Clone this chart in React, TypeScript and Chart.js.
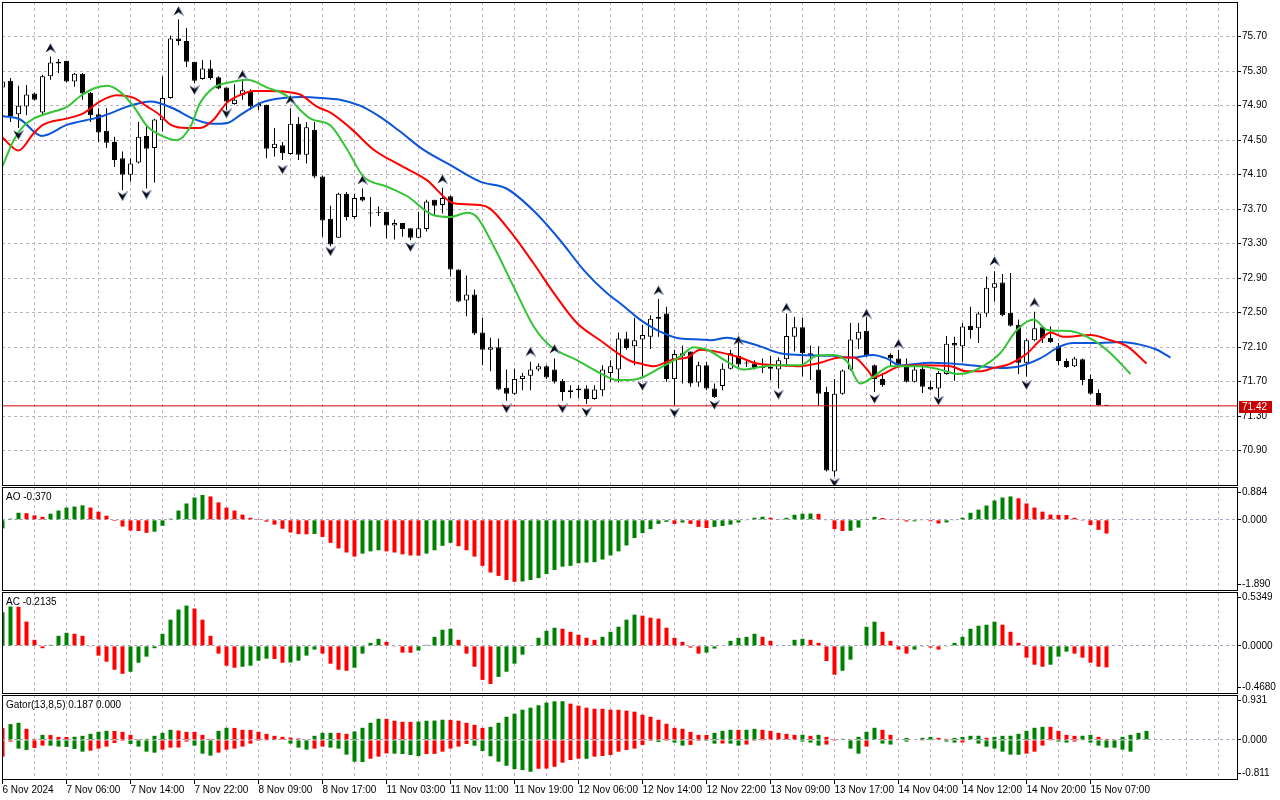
import React, { useEffect, useRef } from 'react';
import { Chart, registerables } from 'chart.js';

Chart.register(...registerables);

// ---------------- data (hourly bars) ----------------
const openPrices = [
  75.11, 75.19, 74.80, 74.89, 75.04, 74.82, 75.24, 75.41, 75.42, 75.18,
  75.27, 75.05, 74.80, 74.61, 74.48, 74.29, 74.10, 74.24, 74.55, 74.41,
  74.73, 74.99, 75.68, 75.65, 75.41, 75.21, 75.33, 75.23, 75.11, 74.92,
  75.02, 75.06, 74.89, 74.91, 74.41, 74.44, 74.34, 74.69, 74.33, 74.62,
  74.08, 73.59, 73.37, 73.88, 73.61, 73.84, 73.66, 73.67, 73.67, 73.51,
  73.54, 73.48, 73.37, 73.47, 73.81, 73.75, 73.85, 73.00, 72.64, 72.71,
  72.27, 72.07, 72.10, 71.63, 71.56, 71.73, 71.77, 71.84, 71.88, 71.84,
  71.71, 71.58, 71.60, 71.62, 71.50, 71.60, 71.80, 71.84, 72.20, 72.11,
  72.19, 72.22, 72.43, 72.49, 71.73, 72.00, 72.05, 71.69, 71.89, 71.62,
  71.65, 71.85, 72.00, 71.92, 71.91, 71.87, 71.87, 71.84, 71.96, 72.22,
  72.33, 72.03, 71.84, 71.58, 70.66, 71.56, 71.84, 72.19, 72.29, 71.89,
  71.73, 72.01, 71.97, 71.90, 71.70, 71.85, 71.64, 71.62, 71.79, 72.15,
  72.11, 72.35, 72.32, 72.49, 72.79, 72.85, 72.50, 72.36, 71.92, 72.18,
  72.33, 72.21, 72.11, 71.94, 71.88, 71.96, 71.73, 71.57, 71.43,
];
const highPrices = [
  75.22, 75.22, 75.13, 75.14, 75.05, 75.26, 75.47, 75.44, 75.42, 75.28,
  75.28, 75.06, 74.87, 74.87, 74.54, 74.37, 74.29, 74.71, 74.66, 74.75,
  75.24, 75.71, 75.90, 75.80, 75.41, 75.43, 75.43, 75.24, 75.11, 75.15,
  75.21, 75.09, 74.94, 74.91, 74.64, 74.48, 74.87, 74.77, 74.71, 74.71,
  74.09, 73.74, 73.89, 73.90, 73.88, 73.94, 73.84, 73.73, 73.67, 73.58,
  73.54, 73.48, 73.67, 73.81, 73.81, 73.95, 73.86, 73.00, 72.93, 72.77,
  72.44, 72.21, 72.20, 71.84, 71.85, 71.80, 71.93, 71.91, 71.89, 71.97,
  71.73, 71.66, 71.66, 71.66, 71.66, 71.89, 71.95, 72.27, 72.28, 72.44,
  72.36, 72.47, 72.66, 72.57, 72.07, 72.12, 72.05, 71.93, 71.93, 71.68,
  71.91, 72.07, 72.16, 71.96, 71.95, 71.97, 72.00, 71.98, 72.49, 72.45,
  72.44, 72.12, 72.11, 71.64, 71.73, 71.84, 72.38, 72.38, 72.45, 71.90,
  71.80, 72.03, 72.07, 71.97, 71.89, 71.89, 71.71, 71.82, 72.23, 72.22,
  72.38, 72.57, 72.51, 72.92, 72.98, 72.95, 72.96, 72.42, 72.20, 72.51,
  72.34, 72.34, 72.15, 71.97, 71.99, 71.97, 71.78, 71.61, 71.43,
];
const lowPrices = [
  75.06, 74.71, 74.64, 74.79, 74.96, 74.79, 75.20, 75.28, 75.17, 75.12,
  74.97, 74.71, 74.48, 74.41, 74.19, 73.92, 74.02, 74.23, 73.94, 74.01,
  74.60, 74.98, 75.60, 75.35, 75.16, 75.20, 75.20, 75.09, 74.85, 74.91,
  74.97, 74.85, 74.85, 74.29, 74.31, 74.27, 74.33, 74.27, 74.23, 74.06,
  73.38, 73.27, 73.37, 73.57, 73.59, 73.79, 73.50, 73.62, 73.36, 73.35,
  73.38, 73.34, 73.37, 73.44, 73.63, 73.65, 72.92, 72.62, 72.46, 72.24,
  71.89, 71.82, 71.60, 71.48, 71.55, 71.60, 71.60, 71.82, 71.73, 71.68,
  71.48, 71.51, 71.51, 71.44, 71.49, 71.53, 71.70, 71.69, 72.07, 71.89,
  71.74, 72.08, 72.22, 71.70, 71.43, 71.68, 71.64, 71.64, 71.60, 71.51,
  71.60, 71.84, 71.87, 71.87, 71.84, 71.80, 71.72, 71.62, 71.87, 72.05,
  71.76, 71.72, 71.42, 70.66, 70.60, 71.55, 71.83, 72.08, 71.99, 71.58,
  71.64, 71.87, 71.87, 71.69, 71.69, 71.57, 71.60, 71.51, 71.78, 71.71,
  71.93, 72.20, 72.15, 72.45, 72.63, 72.46, 72.34, 71.79, 71.76, 72.17,
  72.15, 72.15, 71.89, 71.86, 71.87, 71.66, 71.55, 71.42, 71.42,
];
const closePrices = [
  75.18, 74.78, 74.90, 75.03, 74.97, 75.24, 75.40, 75.39, 75.18, 75.27,
  75.04, 74.79, 74.59, 74.47, 74.27, 74.10, 74.23, 74.54, 74.40, 74.74,
  74.99, 75.68, 75.65, 75.41, 75.19, 75.33, 75.22, 75.10, 74.95, 74.97,
  75.08, 74.89, 74.92, 74.40, 74.46, 74.35, 74.69, 74.33, 74.65, 74.08,
  73.57, 73.29, 73.88, 73.61, 73.83, 73.80, 73.65, 73.66, 73.51, 73.54,
  73.47, 73.37, 73.48, 73.79, 73.74, 73.83, 73.00, 72.63, 72.71, 72.26,
  72.07, 72.10, 71.61, 71.56, 71.73, 71.77, 71.84, 71.88, 71.75, 71.70,
  71.58, 71.60, 71.62, 71.50, 71.61, 71.84, 71.88, 72.20, 72.09, 72.18,
  72.24, 72.43, 72.45, 71.73, 72.02, 72.03, 71.68, 71.89, 71.62, 71.52,
  71.85, 72.03, 71.90, 71.91, 71.86, 71.86, 71.85, 71.95, 72.23, 72.33,
  72.03, 72.00, 71.56, 70.67, 71.56, 71.83, 72.19, 72.28, 72.00, 71.73,
  71.66, 71.97, 71.90, 71.70, 71.84, 71.64, 71.61, 71.80, 72.14, 72.12,
  72.34, 72.30, 72.49, 72.79, 72.84, 72.47, 72.35, 71.92, 72.18, 72.32,
  72.20, 72.16, 71.94, 71.87, 71.97, 71.72, 71.56, 71.43, 71.42,
];

// Alligator (already shifted: jaw 8, teeth 5, lips 3 bars)
const jawIndex = [0, 2.2, 4.9, 8.1, 12.2, 16.3, 18.5, 21.3, 23.8, 26.3, 28.1, 29.7, 32.2, 34.3, 37.2, 41, 42.2, 44.7, 47.2, 49.7, 52.6, 56, 59.7, 63, 66.3, 69.7, 72.6, 75.5, 77.2, 79.7, 82.2, 84.7, 87.2, 88.5, 90.6, 92.2, 94.7, 97.2, 99.7, 103.8, 106.3, 108.8, 110.5, 112.2, 116, 118.5, 122.2, 124.7, 127.2, 129.7, 132.2, 133.8, 137.2, 139.7, 142.2, 144.3, 146];
const jawValues = [74.78, 74.74, 74.55, 74.68, 74.77, 74.91, 74.95, 74.87, 74.75, 74.69, 74.70, 74.79, 74.93, 74.98, 75.00, 74.98, 74.97, 74.90, 74.77, 74.60, 74.39, 74.21, 74.02, 73.94, 73.69, 73.34, 73.00, 72.73, 72.61, 72.42, 72.28, 72.20, 72.19, 72.18, 72.21, 72.18, 72.11, 72.03, 72.01, 72.00, 71.98, 72.01, 71.97, 71.89, 71.92, 71.91, 71.88, 71.86, 71.88, 71.97, 72.11, 72.15, 72.15, 72.16, 72.13, 72.07, 71.98];
const teethIndex = [0, 2, 3.9, 5.1, 8, 10.1, 12.2, 14.3, 16.4, 18.1, 19.7, 21, 23, 24.7, 26.4, 28, 30.1, 31.4, 33, 35.6, 37.2, 39.3, 41, 43.5, 46.4, 49.7, 53, 56.4, 59.7, 60.9, 63.5, 66.4, 68.9, 71.8, 74.7, 78.5, 79.7, 81.4, 83.9, 85.6, 87.2, 89.7, 92.2, 94.3, 97.2, 99.7, 102.2, 104.7, 106.4, 108.1, 108.9, 110.1, 112.2, 114.7, 118.5, 120.5, 122.2, 123.9, 126, 128.1, 129.7, 131, 132.6, 136, 138.5, 140.6, 143];
const teethValues = [74.53, 74.38, 74.58, 74.68, 74.75, 74.81, 74.95, 75.02, 74.99, 74.89, 74.79, 74.68, 74.64, 74.64, 74.74, 74.93, 75.04, 75.07, 75.07, 75.06, 75.03, 74.89, 74.82, 74.64, 74.39, 74.21, 74.04, 73.77, 73.75, 73.71, 73.44, 73.07, 72.73, 72.38, 72.18, 71.94, 71.91, 71.88, 71.96, 71.98, 72.07, 72.04, 71.98, 71.91, 71.89, 71.88, 71.92, 71.98, 71.98, 71.84, 71.75, 71.79, 71.88, 71.89, 71.88, 71.82, 71.82, 71.86, 71.91, 72.03, 72.18, 72.27, 72.22, 72.24, 72.18, 72.11, 71.91];
const lipsIndex = [0, 1.4, 2.6, 3.9, 5.6, 8.1, 9.7, 11.4, 13.1, 14.7, 16.4, 18.1, 19.3, 21.8, 23.5, 24.7, 26.4, 28.9, 30.6, 33.1, 35.6, 37.2, 38.5, 41, 43.1, 45.1, 48.1, 50.6, 53.9, 56, 58.1, 59.3, 61.4, 63.9, 66.4, 68.5, 71.8, 74.7, 76.8, 78.5, 79.7, 82.2, 84.7, 86.4, 88.1, 90.6, 92.6, 94.7, 97.2, 99.7, 101.8, 103.9, 105.6, 107.2, 108.9, 111, 113.1, 114.7, 117.2, 119.3, 120.6, 122.6, 124.7, 126.8, 128.9, 130.6, 132.2, 133.9, 136.4, 138.5, 141];
const lipsValues = [74.20, 74.50, 74.66, 74.75, 74.81, 74.89, 75.01, 75.10, 75.13, 75.06, 74.89, 74.66, 74.58, 74.50, 74.66, 74.93, 75.11, 75.18, 75.20, 75.11, 75.01, 74.85, 74.75, 74.67, 74.39, 74.08, 73.96, 73.85, 73.63, 73.61, 73.66, 73.61, 73.27, 72.80, 72.34, 72.11, 71.95, 71.80, 71.72, 71.72, 71.74, 71.86, 71.99, 72.10, 72.07, 71.93, 71.84, 71.87, 71.89, 71.89, 72.00, 72.01, 71.93, 71.68, 71.76, 71.88, 71.88, 71.88, 71.84, 71.79, 71.80, 71.88, 72.03, 72.30, 72.42, 72.30, 72.29, 72.28, 72.18, 72.03, 71.79];

// Fractals
const fractalUpIndex = [6, 22, 30, 36, 45, 55, 66, 69, 82, 92, 98, 108, 112, 124, 129];
const fractalUpValues = [75.57, 76.00, 75.26, 74.97, 74.04, 74.05, 72.05, 72.08, 72.76, 72.18, 72.56, 72.49, 72.14, 73.10, 72.62];
const fractalDownIndex = [2, 15, 18, 24, 28, 35, 41, 51, 63, 70, 73, 80, 84, 89, 97, 104, 109, 117, 128];
const fractalDownValues = [74.56, 73.85, 73.87, 75.08, 74.81, 74.16, 73.21, 73.26, 71.39, 71.39, 71.35, 71.65, 71.34, 71.43, 71.55, 70.53, 71.50, 71.48, 71.66];

// Awesome Oscillator
const aoValues = [
  -0.23, 0.03, 0.19, 0.18, 0.12, 0.08, 0.165, 0.25, 0.33, 0.357,
  0.39, 0.33, 0.22, 0.11, -0.03, -0.18, -0.29, -0.30, -0.35, -0.32,
  -0.16, 0.03, 0.25, 0.44, 0.60, 0.67, 0.63, 0.47, 0.33, 0.25,
  0.14, 0.055, 0.005, -0.05, -0.13, -0.24, -0.34, -0.385, -0.39, -0.38,
  -0.46, -0.62, -0.77, -0.88, -0.99, -0.91, -0.85, -0.82, -0.85, -0.88,
  -0.93, -0.96, -0.965, -0.91, -0.82, -0.70, -0.62, -0.71, -0.82, -0.99,
  -1.24, -1.42, -1.51, -1.62, -1.67, -1.66, -1.62, -1.57, -1.46, -1.35,
  -1.26, -1.24, -1.17, -1.15, -1.14, -1.07, -0.96, -0.85, -0.69, -0.49,
  -0.36, -0.25, -0.11, -0.055, -0.11, -0.073, -0.11, -0.19, -0.22, -0.19,
  -0.165, -0.13, -0.073, -0.01, 0.055, 0.082, 0.055, 0.02, 0.055, 0.137,
  0.165, 0.17, 0.16, -0.01, -0.25, -0.30, -0.295, -0.21, 0.005, 0.08,
  0.05, 0.02, 0.005, -0.045, -0.04, -0.01, -0.04, -0.10, -0.07, -0.01,
  0.055, 0.19, 0.275, 0.385, 0.52, 0.60, 0.63, 0.58, 0.44, 0.33,
  0.22, 0.14, 0.135, 0.13, 0.055, -0.005, -0.14, -0.27, -0.37,
];
// Accelerator Oscillator
const acValues = [
  0.334, 0.391, 0.388, 0.241, 0.06, -0.023, 0.01, 0.10, 0.13, 0.12,
  0.10, -0.003, -0.097, -0.157, -0.237, -0.277, -0.257, -0.167, -0.107, -0.023,
  0.12, 0.26, 0.361, 0.40, 0.371, 0.26, 0.10, -0.077, -0.197, -0.217,
  -0.207, -0.197, -0.147, -0.127, -0.13, -0.167, -0.165, -0.147, -0.097, -0.037,
  -0.077, -0.177, -0.237, -0.247, -0.217, -0.077, 0.03, 0.07, 0.04, -0.003,
  -0.067, -0.068, -0.047, 0.01, 0.09, 0.16, 0.17, 0.06, -0.077, -0.207,
  -0.338, -0.378, -0.308, -0.257, -0.177, -0.087, -0.005, 0.08, 0.15, 0.18,
  0.17, 0.14, 0.11, 0.08, 0.06, 0.09, 0.14, 0.19, 0.26, 0.31,
  0.30, 0.28, 0.27, 0.18, 0.08, 0.04, -0.017, -0.077, -0.067, -0.027,
  -0.005, 0.05, 0.08, 0.09, 0.12, 0.09, 0.05, 0.00, 0.007, 0.06,
  0.07, 0.06, 0.03, -0.15, -0.287, -0.247, -0.137, 0.003, 0.19, 0.24,
  0.14, 0.05, -0.037, -0.077, -0.037, -0.002, -0.017, -0.037, -0.003, 0.03,
  0.09, 0.17, 0.20, 0.21, 0.24, 0.21, 0.14, 0.03, -0.117, -0.187,
  -0.207, -0.187, -0.107, -0.057, -0.077, -0.117, -0.167, -0.207, -0.2135,
];
// Gator oscillator
const gatorUpper = [
  0.244, 0.327, 0.355, 0.23, 0.021, 0.104, 0.100, 0.063, 0.060, 0.065,
  0.084, 0.125, 0.167, 0.188, 0.185, 0.167, 0.104, 0.018, 0.022, 0.084,
  0.146, 0.209, 0.195, 0.167, 0.165, 0.104, 0.021, 0.188, 0.251, 0.248,
  0.209, 0.207, 0.167, 0.125, 0.084, 0.063, 0.049, 0.028, 0.014, 0.084,
  0.146, 0.147, 0.145, 0.125, 0.174, 0.251, 0.355, 0.438, 0.436, 0.397,
  0.376, 0.374, 0.38, 0.397, 0.40, 0.418, 0.415, 0.397, 0.355, 0.313,
  0.25, 0.271, 0.355, 0.48, 0.543, 0.626, 0.668, 0.717, 0.773, 0.80,
  0.802, 0.752, 0.71, 0.668, 0.647, 0.645, 0.626, 0.624, 0.606, 0.585,
  0.522, 0.48, 0.418, 0.334, 0.25, 0.23, 0.167, 0.104, 0.102, 0.146,
  0.188, 0.209, 0.207, 0.210, 0.23, 0.209, 0.188, 0.146, 0.125, 0.104,
  0.106, 0.084, 0.104, 0.063, 0.014, 0.021, 0.007, 0.063, 0.167, 0.251,
  0.209, 0.104, 0.014, 0.042, 0.01, 0.042, 0.063, 0.042, 0.021, 0.042,
  0.063, 0.084, 0.086, 0.042, 0.063, 0.084, 0.086, 0.125, 0.188, 0.251,
  0.271, 0.27, 0.188, 0.104, 0.084, 0.086, 0.104, 0.063, 0.021, 0.007,
  0.063, 0.104, 0.146, 0.187,
];
const gatorLower = [
  -0.348, -0.035, -0.181, -0.209, -0.167, -0.118, -0.120, -0.139, -0.146, -0.188,
  -0.244, -0.223, -0.181, -0.139, -0.063, -0.021, -0.084, -0.139, -0.244, -0.265,
  -0.202, -0.160, -0.158, -0.035, -0.118, -0.285, -0.327, -0.265, -0.202, -0.181,
  -0.139, -0.077, -0.021, -0.005, -0.008, -0.01, -0.077, -0.160, -0.202, -0.181,
  -0.139, -0.160, -0.181, -0.306, -0.452, -0.46, -0.390, -0.348, -0.28, -0.285,
  -0.292, -0.313, -0.334, -0.292, -0.29, -0.244, -0.181, -0.139, -0.084, -0.12,
  -0.23, -0.34, -0.452, -0.536, -0.606, -0.626, -0.661, -0.599, -0.595, -0.557,
  -0.473, -0.418, -0.39, -0.392, -0.348, -0.334, -0.313, -0.244, -0.209, -0.181,
  -0.104, -0.02, -0.042, -0.02, -0.056, -0.118, -0.104, -0.02, -0.021, -0.077,
  -0.075, -0.077, -0.118, -0.097, -0.02, -0.014, -0.012, -0.01, -0.01, -0.012,
  -0.035, -0.056, -0.118, -0.097, -0.02, -0.01, -0.181, -0.285, -0.139, -0.01,
  -0.077, -0.097, -0.01, -0.035, -0.01, -0.005, -0.014, -0.012, -0.035, -0.056,
  -0.054, -0.01, -0.077, -0.139, -0.181, -0.244, -0.306, -0.308, -0.285, -0.244,
  -0.118, -0.014, -0.035, -0.056, -0.035, -0.007, -0.056, -0.118, -0.160, -0.162,
  -0.202, -0.244, null, 0,
];

// Axis labels
const timeLabels = ['6 Nov 2024', '7 Nov 06:00', '7 Nov 14:00', '7 Nov 22:00', '8 Nov 09:00', '8 Nov 17:00', '11 Nov 03:00', '11 Nov 11:00', '11 Nov 19:00', '12 Nov 06:00', '12 Nov 14:00', '12 Nov 22:00', '13 Nov 09:00', '13 Nov 17:00', '14 Nov 04:00', '14 Nov 12:00', '14 Nov 20:00', '15 Nov 07:00'];
const timeLabelIndex = [0, 8, 16, 24, 32, 40, 48, 56, 64, 72, 80, 88, 96, 104, 112, 120, 128, 136];
const gridIndex = [0, 4, 8, 12, 16, 20, 24, 28, 32, 36, 40, 44, 48, 52, 56, 60, 64, 68, 72, 76, 80, 84, 88, 92, 96, 100, 104, 108, 112, 116, 120, 124, 128, 132, 136, 140, 144, 148, 152];
const priceTicks = [70.9, 71.3, 71.7, 72.1, 72.5, 72.9, 73.3, 73.7, 74.1, 74.5, 74.9, 75.3, 75.7];
const bidPrice = 71.42;
const aoTickLabels = ['-1.890', '0.000', '0.884'];
const acTickLabels = ['-0.4680', '0.0000', '0.5349'];
const gatorTickLabels = ['-0.811', '0.000', '0.931'];
const panelTitles = ['AO -0.370', 'AC -0.2135', 'Gator(13,8,5) 0.187 0.000'];

// ---------------- styling / layout ----------------
const GREEN = '#008000';
const RED = '#ff0000';
const V_GRID = '#c8aac8';
const H_GRID = '#b9b1bb';
const ZERO_GRID = '#a3acc4';
const FONT_FAMILY = '"Liberation Sans", Arial, sans-serif';
const FONT = { family: FONT_FAMILY, size: 10 };
const AREA_LEFT = 2;
const AXIS_WIDTH = 43;
const STEP = 8;
const X_MIN = -0.5 / STEP;
const X_MAX = X_MIN + (1280 - AXIS_WIDTH - AREA_LEFT) / STEP;
const MAIN_MAX = 76.1023;
const MAIN_MIN = 70.5023;

function histColors(vals: (number | null)[], first: string, useAbs: boolean) {
  return vals.map((v, i) => {
    if (i === 0 || v === null) return first;
    const p = vals[i - 1];
    if (p === null) return first;
    const a = useAbs ? Math.abs(v) : v;
    const b = useAbs ? Math.abs(p) : p;
    return a > b ? GREEN : RED;
  });
}

function makeArrow(up: boolean) {
  const c = document.createElement('canvas');
  c.width = 11;
  c.height = 10;
  const g = c.getContext('2d')!;
  if (!up) {
    g.translate(0, 10);
    g.scale(1, -1);
  }
  g.beginPath();
  g.moveTo(5.5, 0.5);
  g.lineTo(10.5, 9.5);
  g.lineTo(5.5, 6.5);
  g.lineTo(0.5, 9.5);
  g.closePath();
  g.fillStyle = '#0a0a18';
  g.fill();
  g.beginPath();
  g.moveTo(5.5, 0.5);
  g.lineTo(10.5, 9.5);
  g.lineTo(5.5, 6.5);
  g.strokeStyle = '#8d9fc6';
  g.lineWidth = 1;
  g.stroke();
  return c;
}

const framePlugin = {
  id: 'panelFrame',
  afterDraw(chart: any, _args: any, opts: any) {
    const { ctx, chartArea: a } = chart;
    ctx.save();
    ctx.strokeStyle = '#000';
    ctx.lineWidth = 1;
    const l = Math.round(a.left), t = Math.round(a.top), r = Math.round(a.right), b = Math.round(a.bottom);
    ctx.strokeRect(l + 0.5, t + 0.5, r - l, b - t);
    if (opts && opts.title) {
      ctx.fillStyle = '#000';
      ctx.font = `${FONT.size}px ${FONT_FAMILY}`;
      ctx.textBaseline = 'alphabetic';
      ctx.textAlign = 'left';
      ctx.fillText(opts.title, l + 4, t + 13);
    }
    if (opts && opts.bid !== undefined) {
      const y = chart.scales.y.getPixelForValue(opts.bid);
      const yy = Math.round(y);
      ctx.fillStyle = '#c80000';
      ctx.fillRect(r + 2, yy - 5, 33, 12);
      ctx.fillStyle = '#fff';
      ctx.font = `${FONT.size}px ${FONT_FAMILY}`;
      ctx.textBaseline = 'middle';
      ctx.fillText(String(opts.bid.toFixed(2)), r + 5, yy + 1);
    }
    ctx.restore();
  },
};

function xScale(showLabels: boolean) {
  return {
    type: 'linear',
    min: X_MIN,
    max: X_MAX,
    offset: false,
    position: 'bottom',
    afterBuildTicks: (s: any) => {
      s.ticks = gridIndex.map((v) => ({ value: v }));
    },
    afterFit: (s: any) => {
      s.height = showLabels ? 21 : 0;
      s.paddingLeft = 0;
      s.paddingRight = 0;
    },
    ticks: {
      display: showLabels,
      autoSkip: false,
      maxRotation: 0,
      minRotation: 0,
      align: 'start',
      padding: 0,
      color: '#000',
      font: FONT,
      callback: (v: any) => {
        const j = timeLabelIndex.indexOf(Number(v));
        return j >= 0 ? timeLabels[j] : '';
      },
    },
    grid: {
      offset: false,
      color: V_GRID,
      lineWidth: 1,
      drawTicks: showLabels,
      tickLength: 5,
      tickColor: (c: any) => (c.tick && timeLabelIndex.indexOf(c.tick.value) >= 0 ? '#000' : 'rgba(0,0,0,0)'),
    },
    border: { display: false, dash: [3, 3] },
  };
}

function subYScale(min: number, max: number, areaPx: number, labels: string[]) {
  const inset = 5.5 * (max - min) / areaPx;
  return {
    type: 'linear',
    position: 'right',
    min,
    max,
    afterBuildTicks: (s: any) => {
      s.ticks = [{ value: min + inset }, { value: 0 }, { value: max - inset }];
    },
    afterFit: (s: any) => {
      s.width = AXIS_WIDTH;
      s.paddingTop = 0;
      s.paddingBottom = 0;
    },
    ticks: {
      color: '#000',
      font: FONT,
      padding: 1,
      callback: (_v: any, i: number) => labels[i],
    },
    grid: {
      color: (c: any) => (c.tick && c.tick.value === 0 ? ZERO_GRID : 'rgba(0,0,0,0)'),
      tickLength: 4,
      tickColor: '#000',
    },
    border: { display: false, dash: [3, 3] },
  };
}

function baseOptions(padding: any, title: string | null, bid?: number) {
  return {
    responsive: false,
    maintainAspectRatio: false,
    animation: false,
    events: [],
    layout: { padding, autoPadding: false },
    plugins: {
      legend: { display: false },
      tooltip: { enabled: false },
      panelFrame: bid !== undefined ? { bid } : { title },
    },
  } as any;
}

function mainConfig(upArrow: HTMLCanvasElement, downArrow: HTMLCanvasElement): any {
  const bodies = openPrices.map((o, i) => ({ x: i, y: [o, closePrices[i]] }));
  const wicks = openPrices.map((_, i) => ({ x: i, y: [lowPrices[i], highPrices[i]] }));
  const bodyColors = openPrices.map((o, i) => (closePrices[i] >= o ? '#ffffff' : '#000000'));
  const line = (idx: number[], vals: number[], color: string, order: number) => ({
    type: 'line',
    data: idx.map((x, i) => ({ x, y: vals[i] })),
    borderColor: color,
    borderWidth: 2,
    pointRadius: 0,
    fill: false,
    cubicInterpolationMode: 'monotone',
    order,
  });
  const opts = baseOptions({ left: AREA_LEFT, right: 0, top: 2, bottom: 2 }, null, bidPrice);
  opts.scales = {
    x: xScale(false),
    y: {
      type: 'linear',
      position: 'right',
      min: MAIN_MIN,
      max: MAIN_MAX,
      afterBuildTicks: (s: any) => {
        s.ticks = priceTicks.map((v) => ({ value: v }));
      },
      afterFit: (s: any) => {
        s.width = AXIS_WIDTH;
        s.paddingTop = 0;
        s.paddingBottom = 0;
      },
      ticks: { color: '#000', font: FONT, padding: 1, callback: (v: any) => Number(v).toFixed(2) },
      grid: { color: H_GRID, tickLength: 4, tickColor: '#000' },
      border: { display: false, dash: [3, 3] },
    },
  };
  return {
    type: 'bar',
    data: {
      datasets: [
        {
          type: 'line',
          data: fractalUpIndex.map((x, i) => ({ x, y: fractalUpValues[i] })),
          showLine: false,
          pointStyle: upArrow,
          pointRadius: 5,
          order: 0,
        },
        {
          type: 'line',
          data: fractalDownIndex.map((x, i) => ({ x, y: fractalDownValues[i] })),
          showLine: false,
          pointStyle: downArrow,
          pointRadius: 5,
          order: 0,
        },
        {
          type: 'line',
          data: [{ x: X_MIN, y: bidPrice }, { x: X_MAX, y: bidPrice }],
          borderColor: '#dd0000',
          borderWidth: 1,
          pointRadius: 0,
          order: 0.5,
        },
        line(lipsIndex, lipsValues, '#35c435', 1),
        line(teethIndex, teethValues, '#ff0000', 2),
        line(jawIndex, jawValues, '#0b55d8', 3),
        {
          type: 'bar',
          data: bodies,
          backgroundColor: bodyColors,
          borderColor: '#000',
          borderWidth: 1,
          borderSkipped: false,
          barThickness: 5,
          grouped: false,
          minBarLength: 1,
          inflateAmount: 0,
          clip: 0,
          order: 4,
        },
        {
          type: 'bar',
          data: wicks,
          backgroundColor: '#000',
          borderWidth: 0,
          barThickness: 1,
          grouped: false,
          inflateAmount: 0,
          clip: 0,
          order: 5,
        },
      ],
    },
    options: opts,
    plugins: [framePlugin],
  };
}

function histConfig(series: { vals: (number | null)[]; first: string; abs: boolean }[], min: number, max: number, areaPx: number, labels: string[], title: string, padding: any, showX: boolean): any {
  const opts = baseOptions(padding, title);
  opts.scales = { x: xScale(showX), y: subYScale(min, max, areaPx, labels) };
  return {
    type: 'bar',
    data: {
      datasets: series.map((s) => ({
        type: 'bar',
        data: s.vals.map((v, i) => ({ x: i, y: v })),
        backgroundColor: histColors(s.vals, s.first, s.abs),
        borderWidth: 0,
        barThickness: 4,
        grouped: false,
        inflateAmount: 0,
        clip: 0,
      })),
    },
    options: opts,
    plugins: [framePlugin],
  };
}

export default function App() {
  const mainRef = useRef<HTMLCanvasElement>(null);
  const aoRef = useRef<HTMLCanvasElement>(null);
  const acRef = useRef<HTMLCanvasElement>(null);
  const gatorRef = useRef<HTMLCanvasElement>(null);

  useEffect(() => {
    const up = makeArrow(true);
    const down = makeArrow(false);
    const charts: Chart[] = [];
    charts.push(new Chart(mainRef.current!, mainConfig(up, down)));
    charts.push(
      new Chart(
        aoRef.current!,
        histConfig([{ vals: aoValues, first: GREEN, abs: false }], -1.89, 0.884, 103, aoTickLabels, panelTitles[0], { left: AREA_LEFT, right: 0, top: 1, bottom: 1 }, false),
      ),
    );
    charts.push(
      new Chart(
        acRef.current!,
        histConfig([{ vals: acValues, first: GREEN, abs: false }], -0.468, 0.5349, 101, acTickLabels, panelTitles[1], { left: AREA_LEFT, right: 0, top: 1, bottom: 1 }, false),
      ),
    );
    charts.push(
      new Chart(
        gatorRef.current!,
        histConfig(
          [
            { vals: gatorUpper, first: RED, abs: true },
            { vals: gatorLower, first: RED, abs: true },
          ],
          -0.811,
          0.931,
          84,
          gatorTickLabels,
          panelTitles[2],
          { left: AREA_LEFT, right: 0, top: 1, bottom: 0 },
          true,
        ),
      ),
    );
    return () => charts.forEach((c) => c.destroy());
  }, []);

  const cs = (top: number, h: number): React.CSSProperties => ({ position: 'absolute', left: 0, top, width: 1280, height: h, display: 'block' });

  return (
    <div style={{ position: 'fixed', left: 0, top: 0, width: 1280, height: 800, background: '#ffffff', overflow: 'hidden' }}>
      <canvas ref={mainRef} width={1280} height={487} style={cs(0, 487)} />
      <canvas ref={aoRef} width={1280} height={105} style={cs(486, 105)} />
      <canvas ref={acRef} width={1280} height={103} style={cs(591, 103)} />
      <canvas ref={gatorRef} width={1280} height={106} style={cs(694, 106)} />
    </div>
  );
}
